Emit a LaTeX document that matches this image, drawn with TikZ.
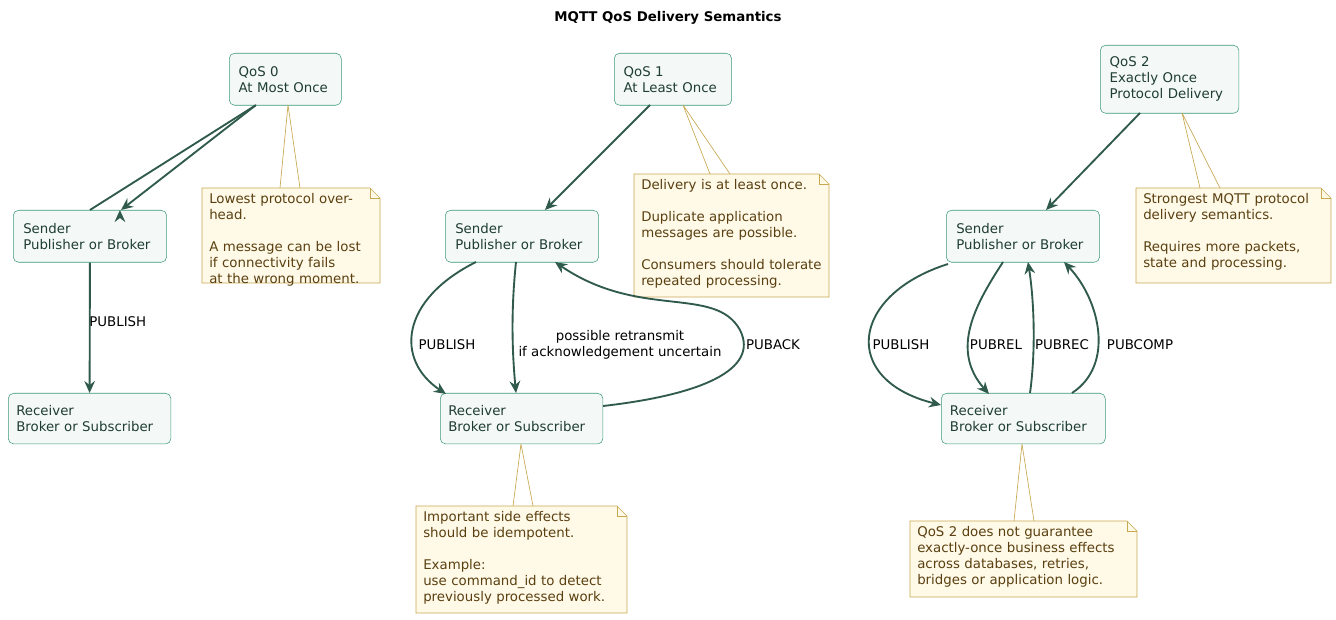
\documentclass[tikz,border=0pt]{standalone}
\usepackage{fontspec}
\setmainfont{DejaVu Sans}
\usetikzlibrary{arrows.meta,backgrounds}
\definecolor{nfill}{HTML}{F4F9F7}
\definecolor{nbord}{HTML}{3C9A78}
\definecolor{ntext}{HTML}{1F3D33}
\definecolor{edge}{HTML}{2F5A4C}
\definecolor{notef}{HTML}{FFF9E8}
\definecolor{noteb}{HTML}{C8A850}
\definecolor{notet}{HTML}{5A4010}
\begin{document}
\begin{tikzpicture}[x=0.75pt,y=-0.75pt,
 box/.style={draw=nbord,fill=nfill,rounded corners=4pt,text=ntext,align=left,anchor=north west,inner sep=0pt,font=\fontsize{10}{12}\selectfont},
 nt/.style={text=notet,align=left,anchor=north west,inner sep=0pt,font=\fontsize{10}{12}\selectfont},
 ed/.style={draw=edge,line width=1.4pt,-{Stealth[length=9pt,width=8pt,inset=3pt]}},
 lb/.style={font=\fontsize{10}{12}\selectfont,align=center,inner sep=1pt},
 nl/.style={draw=noteb,line width=0.5pt}]
\useasboundingbox (0,0) rectangle (1336,620);
\newcommand{\mybox}[5]{\node[box,minimum width=#4*0.75pt,minimum height=#5*0.75pt,text width=(#4-18)*0.75pt] (#1) at (#2) {#3};}
\newcommand{\mynote}[5]{%
 \node[nt,text width=(#4-14)*0.75pt] (#1) at ($(#2)+(7,5)$) {#3};
 \begin{scope}[on background layer]
 \draw[nl,fill=notef] (#2) ++(0,#5) coordinate (#1sw) -- (#2) -- ++(#4-10,0) -- ++(10,10) -- ++(0,#5-10) -- cycle;
 \draw[nl] (#2) ++(#4-10,0) -- ++(0,10) -- ++(10,0);
 \end{scope}}
\usetikzlibrary{calc}
\node[font=\fontsize{10}{12}\selectfont\bfseries] (title) at (668,18) {MQTT QoS Delivery Semantics};
% QoS 0
\node[box,minimum width=84pt,minimum height=39pt,text width=70pt] (q0) at (229,53) {QoS 0\\At Most Once};
\node[box,minimum width=115pt,minimum height=39pt,text width=100pt] (s0) at (13,210) {Sender\\Publisher or Broker};
\node[box,minimum width=122pt,minimum height=38pt,text width=110pt] (r0) at (8,393) {Receiver\\Broker or Subscriber};
\draw[ed] (q0.south) ++(-30,0) -- (s0.north) ++(30,0);
\draw[ed] (256,105) -- (121,210);
\draw[ed] (s0.south) -- node[lb,right,pos=0.45,xshift=-2pt]{PUBLISH} (r0.north);
% QoS 1
\node[box,minimum width=88pt,minimum height=39pt,text width=74pt] (q1) at (614,53) {QoS 1\\At Least Once};
\node[box,minimum width=115pt,minimum height=39pt,text width=100pt] (s1) at (445,210) {Sender\\Publisher or Broker};
\node[box,minimum width=122pt,minimum height=38pt,text width=110pt] (r1) at (440,393) {Receiver\\Broker or Subscriber};
\draw[ed] (650,105) -- (545,210);
\draw[ed] (476,262) .. controls (400,300) and (395,360) .. (446,394);
\node[lb] (l1a) at (447,345) {PUBLISH};
\draw[ed] (516,262) .. controls (511,310) and (512,350) .. (516,393);
\node[lb] (l1b) at (620,345) {possible retransmit\\if acknowledgement uncertain};
\draw[ed] (603,406) .. controls (700,395) and (760,370) .. (740,330) .. controls (715,285) and (640,320) .. (555,262);
\node[lb,fill=white] (l1c) at (773,345) {PUBACK};
% QoS 2
\node[box,minimum width=104pt,minimum height=51pt,text width=90pt] (q2) at (1100,45) {QoS 2\\Exactly Once\\Protocol Delivery};
\node[box,minimum width=115pt,minimum height=39pt,text width=100pt] (s2) at (946,210) {Sender\\Publisher or Broker};
\node[box,minimum width=123pt,minimum height=38pt,text width=110pt] (r2) at (941,393) {Receiver\\Broker or Subscriber};
\draw[ed] (1140,113) -- (1046,210);
\draw[ed] (948,264) .. controls (850,295) and (840,380) .. (941,405);
\node[lb] (l2a) at (901,345) {PUBLISH};
\draw[ed] (1003,262) .. controls (975,305) and (950,350) .. (989,394);
\node[lb] (l2b) at (996,345) {PUBREL};
\draw[ed] (1030,393) .. controls (1036,350) and (1034,300) .. (1028,262);
\node[lb] (l2c) at (1062,345) {PUBREC};
\draw[ed] (1072,393) .. controls (1115,365) and (1100,300) .. (1064,262);
\node[lb,fill=white] (l2d) at (1140,345) {PUBCOMP};
% notes
\mynote{n0}{202,188}{Lowest protocol overhead.\\[12pt]A message can be lost\\if connectivity fails\\at the wrong moment.}{178}{95}
\draw[nl] (288,105) -- (280,188) (288,105) -- (300,188);
\mynote{n1}{634,174}{Delivery is at least once.\\[12pt]Duplicate application\\messages are possible.\\[12pt]Consumers should tolerate\\repeated processing.}{195}{123}
\draw[nl] (683,105) -- (710,174) (683,105) -- (730,174);
\mynote{n1b}{416,506}{Important side effects\\should be idempotent.\\[12pt]Example:\\use command\_id to detect\\previously processed work.}{211}{107}
\draw[nl] (521,444) -- (513,506) (521,444) -- (533,506);
\mynote{n2}{1136,188}{Strongest MQTT protocol\\delivery semantics.\\[12pt]Requires more packets,\\state and processing.}{195}{95}
\draw[nl] (1182,113) -- (1200,188) (1182,113) -- (1220,188);
\mynote{n2b}{910,521}{QoS 2 does not guarantee\\exactly-once business effects\\across databases, retries,\\bridges or application logic.}{227}{76}
\draw[nl] (1022,444) -- (1014,521) (1022,444) -- (1034,521);
\end{tikzpicture}
\end{document}
